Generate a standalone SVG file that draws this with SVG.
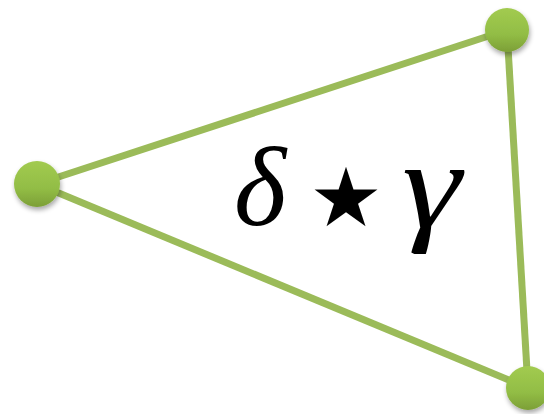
<svg xmlns="http://www.w3.org/2000/svg" width="544" height="414" viewBox="0 0 544 414">
<defs>
<linearGradient id="g" x1="0" y1="0" x2="0" y2="1">
<stop offset="0" stop-color="#a2cb50"/>
<stop offset="0.6" stop-color="#92bd45"/>
<stop offset="1" stop-color="#7c9f37"/>
</linearGradient>
<filter id="sh" x="-50%" y="-50%" width="200%" height="200%">
<feGaussianBlur in="SourceAlpha" stdDeviation="2.5"/>
<feOffset dx="1" dy="3" result="b"/>
<feComponentTransfer><feFuncA type="linear" slope="0.35"/></feComponentTransfer>
<feMerge><feMergeNode/><feMergeNode in="SourceGraphic"/></feMerge>
</filter>
<style>
.e{stroke:#9bbb59;stroke-width:7;fill:none;stroke-linecap:butt}
.n{fill:url(#g);filter:url(#sh)}
.t{font-family:"Liberation Serif",serif;font-style:italic;fill:#000}
</style>
</defs>
<g id="edges">
<line class="e" x1="37" y1="184" x2="507" y2="30"/>
<line class="e" x1="37" y1="184" x2="528" y2="388"/>
<line class="e" x1="507" y1="30" x2="528" y2="388"/>
</g>
<g id="node-left"><circle class="n" cx="37" cy="184" r="23"/></g>
<g id="node-top"><circle class="n" cx="507" cy="30" r="22"/></g>
<g id="node-bottom"><circle class="n" cx="528" cy="388" r="22"/></g>
<g id="label">
<text class="t" x="234" y="225" font-size="112">δ</text>
<text x="346" y="226" font-size="82" font-family="DejaVu Sans,sans-serif" text-anchor="middle">★</text>
<text class="t" x="402" y="227" font-size="125" transform="translate(402 0) scale(1.2 1) translate(-402 0)">γ</text>
</g>
</svg>
